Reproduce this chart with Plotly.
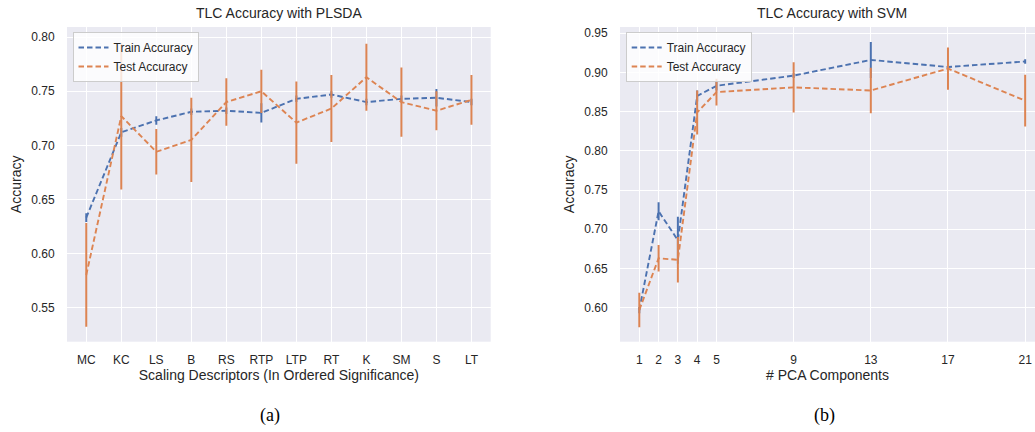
import plotly.graph_objects as go

# ---------------- data ----------------
descriptors = ["MC", "KC", "LS", "B", "RS", "RTP", "LTP", "RT", "K", "SM", "S", "LT"]
plsda_train = [0.633, 0.712, 0.723, 0.731, 0.732, 0.730, 0.743, 0.747, 0.740, 0.743, 0.744, 0.740]
plsda_train_err = [0.004, 0.004, 0.004, 0.003, 0.003, 0.009, 0.003, 0.003, 0.003, 0.003, 0.008, 0.003]
plsda_test = [0.580, 0.727, 0.694, 0.705, 0.740, 0.750, 0.721, 0.734, 0.763, 0.740, 0.732, 0.742]
plsda_test_err = [0.048, 0.068, 0.021, 0.039, 0.022, 0.020, 0.038, 0.031, 0.031, 0.032, 0.018, 0.023]

pca_components = [1, 2, 3, 4, 5, 9, 13, 17, 21]
svm_train = [0.597, 0.723, 0.686, 0.870, 0.883, 0.896, 0.916, 0.907, 0.914]
svm_train_err = [0.004, 0.0115, 0.030, 0.007, 0.006, 0.003, 0.023, 0.003, 0.003]
svm_test = [0.597, 0.663, 0.661, 0.849, 0.875, 0.881, 0.877, 0.905, 0.864]
svm_test_err = [0.022, 0.017, 0.029, 0.028, 0.017, 0.032, 0.029, 0.027, 0.033]

BLUE = "#4C72B0"
ORANGE = "#DD8452"
TXT = "#262626"
FONT = "Liberation Sans, Arial, sans-serif"
SERIF = "Liberation Serif, Times New Roman, serif"
W, H = 1035, 432

def px_x(p):
    return p / W

def px_y(p):
    return 1 - p / H

fig = go.Figure()

def add_pair(xs, tr, tr_e, te, te_e, xa, ya, legend):
    for name, vals, errs, col in [("Train Accuracy", tr, tr_e, BLUE),
                                  ("Test Accuracy", te, te_e, ORANGE)]:
        fig.add_trace(go.Scatter(
            x=xs, y=vals, name=name, mode="lines",
            line=dict(color=col, width=1.9, dash="5.5px,3px"),
            error_y=dict(type="data", array=errs, visible=True,
                         color=col, thickness=2, width=0),
            xaxis=xa, yaxis=ya, legend=legend,
        ))

add_pair(descriptors, plsda_train, plsda_train_err, plsda_test, plsda_test_err, "x", "y", "legend")
add_pair(pca_components, svm_train, svm_train_err, svm_test, svm_test_err, "x2", "y2", "legend2")

ydom = [px_y(341.7), px_y(27)]
axis_common = dict(
    showgrid=True, gridcolor="white", gridwidth=1.2, zeroline=False,
    showline=False, ticks="outside", tickcolor="rgba(0,0,0,0)",
    tickfont=dict(family=FONT, size=12, color=TXT),
    title_font=dict(family=FONT, size=14, color=TXT),
)

legend_common = dict(
    xanchor="left", yanchor="top",
    bgcolor="rgba(255,255,255,0.8)", bordercolor="#cccccc", borderwidth=1,
    font=dict(family=FONT, size=12, color=TXT),
    itemwidth=30, tracegroupgap=0,
)

def ann(text, x, y, font):
    return dict(text=text, x=px_x(x), y=px_y(y), xref="paper", yref="paper",
                xanchor="center", yanchor="middle", showarrow=False, font=font)

fig.update_layout(
    width=W, height=H,
    margin=dict(l=0, r=0, t=0, b=0),
    paper_bgcolor="white",
    plot_bgcolor="#EAEAF2",
    showlegend=True,
    xaxis=dict(domain=[px_x(67), px_x(490.7)], anchor="y",
               type="category", range=[-0.55, 11.55], ticklen=7,
               title=dict(text="Scaling Descriptors (In Ordered Significance)", standoff=4),
               **axis_common),
    yaxis=dict(domain=ydom, anchor="x", range=[0.5182, 0.8095], ticklen=9,
               tickvals=[0.55, 0.60, 0.65, 0.70, 0.75, 0.80], tickformat=".2f",
               title=dict(text="Accuracy", standoff=6),
               **axis_common),
    xaxis2=dict(domain=[px_x(620), 1.0], anchor="y2", ticklen=7,
                range=[0, 21.51], tickvals=pca_components,
                title=dict(text="# PCA Components", standoff=4),
                **axis_common),
    yaxis2=dict(domain=ydom, anchor="x2", range=[0.5566, 0.958], ticklen=9,
                tickvals=[0.60, 0.65, 0.70, 0.75, 0.80, 0.85, 0.90, 0.95], tickformat=".2f",
                title=dict(text="Accuracy", standoff=6),
                **axis_common),
    legend=dict(x=px_x(72.5), y=px_y(32), **legend_common),
    legend2=dict(x=px_x(625.7), y=px_y(32), **legend_common),
    annotations=[
        ann("TLC Accuracy with PLSDA", 278.9, 13, dict(family=FONT, size=14, color=TXT)),
        ann("TLC Accuracy with SVM", 832, 13, dict(family=FONT, size=14, color=TXT)),
        ann("(a)", 270, 415, dict(family=SERIF, size=18, color="black")),
        ann("(b)", 824, 415, dict(family=SERIF, size=18, color="black")),
    ],
)

fig.write_html("out.html")
